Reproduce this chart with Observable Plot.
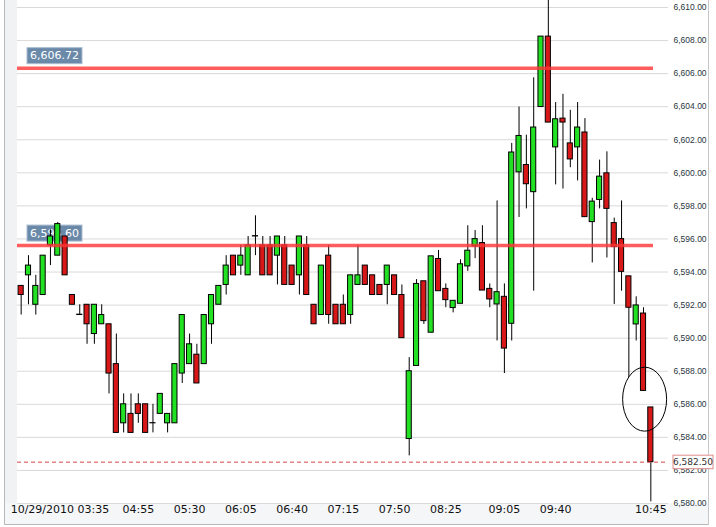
<!DOCTYPE html>
<html><head><meta charset="utf-8">
<script src="https://cdn.jsdelivr.net/npm/d3@7"></script>
<script src="https://cdn.jsdelivr.net/npm/@observablehq/plot@0.6"></script>
<style>html,body{margin:0;padding:0;background:#fff;} #chart{width:716px;height:527px;overflow:hidden;}</style>
</head><body><div id="chart"></div>
<script>
// ---- data ----
const dateLabel = "10/29/2010";
const startHour = 3, startMinute = 35, barMinutes = 5;
const open  = [6593.16,6593.80,6592.02,6592.61,6595.61,6594.99,6596.15,6592.61,6591.42,6592.02,
               6590.25,6590.84,6590.84,6588.43,6584.85,6585.42,6586.00,6586.00,6584.86,6585.42,
               6584.85,6584.85,6587.86,6588.43,6589.00,6588.43,6590.84,6592.02,6593.22,6594.99,
               6594.39,6593.80,6596.17,6595.61,6595.61,6594.99,6595.61,6594.39,6593.80,6595.61,
               6592.02,6591.40,6594.99,6592.02,6592.02,6591.40,6593.22,6594.39,6593.80,6593.22,
               6593.22,6593.80,6592.61,6583.90,6588.32,6593.44,6590.33,6594.79,6592.98,6591.82,
               6592.08,6594.34,6595.55,6595.75,6592.98,6592.04,6592.50,6590.87,6600.03,6600.47,
               6598.83,6603.98,6608.24,6601.54,6603.28,6601.78,6601.54,6602.44,6597.02,6598.36,
               6599.97,6596.96,6595.99,6593.74,6590.83,6591.49,6585.81];
const high  = [6593.16,6594.99,6593.80,6594.99,6596.55,6597.00,6596.15,6592.61,6592.02,6592.02,
               6592.02,6592.02,6590.84,6590.25,6586.63,6586.63,6586.63,6586.00,6586.00,6586.63,
               6585.42,6588.43,6591.40,6590.25,6589.63,6591.40,6592.61,6593.16,6594.99,6594.99,
               6595.61,6596.15,6597.40,6596.15,6596.15,6596.15,6596.15,6594.39,6596.15,6596.15,
               6592.02,6594.39,6595.61,6592.02,6592.61,6593.80,6595.61,6594.39,6593.80,6593.22,
               6594.39,6593.80,6593.22,6588.82,6593.54,6593.44,6594.95,6595.31,6593.28,6592.26,
               6594.74,6596.80,6596.51,6596.80,6593.28,6598.30,6593.28,6601.78,6603.98,6602.28,
               6605.75,6608.24,6610.45,6604.25,6604.75,6603.78,6604.25,6603.28,6598.46,6600.77,
               6601.27,6597.26,6598.30,6593.74,6592.50,6591.84,6585.81];
const low   = [6591.40,6592.02,6591.40,6592.61,6594.39,6594.99,6593.80,6592.02,6591.40,6589.63,
               6589.63,6590.84,6586.63,6584.27,6584.27,6584.27,6584.85,6584.27,6584.27,6585.42,
               6584.27,6584.85,6587.26,6588.43,6587.26,6588.43,6589.63,6592.02,6592.61,6593.80,
               6593.80,6593.80,6594.99,6593.80,6593.80,6593.22,6593.22,6593.22,6592.61,6592.61,
               6590.84,6591.40,6590.84,6590.84,6590.84,6590.84,6593.22,6593.22,6592.61,6592.61,
               6592.02,6592.61,6590.00,6582.88,6588.32,6590.83,6590.33,6592.84,6591.84,6591.53,
               6592.08,6594.04,6594.81,6592.88,6591.84,6589.83,6587.86,6589.83,6597.30,6597.82,
               6592.84,6603.98,6603.04,6599.27,6599.02,6600.31,6599.51,6597.32,6594.55,6597.82,
               6594.85,6592.04,6592.84,6587.62,6589.83,6586.81,6580.10];
const close = [6592.61,6594.39,6593.16,6594.99,6596.15,6596.90,6593.80,6592.02,6591.40,6590.84,
               6592.02,6591.40,6587.86,6584.27,6586.00,6584.27,6585.42,6584.27,6584.85,6586.63,
               6585.42,6588.43,6591.40,6589.63,6587.26,6591.40,6592.61,6593.16,6594.39,6593.80,
               6594.99,6595.61,6596.15,6593.80,6593.80,6596.15,6593.22,6593.22,6596.15,6592.61,
               6590.84,6594.39,6591.40,6590.84,6590.84,6593.80,6593.80,6593.22,6592.61,6592.61,
               6594.39,6592.61,6590.00,6588.00,6593.28,6591.03,6594.95,6592.84,6592.30,6592.26,
               6594.47,6595.29,6595.99,6592.88,6592.34,6592.78,6589.37,6601.23,6602.23,6599.31,
               6602.74,6608.24,6603.04,6603.24,6603.04,6600.81,6602.74,6597.32,6598.26,6599.77,
               6597.82,6595.51,6594.01,6591.84,6591.98,6586.81,6582.50];
const tickTimes = ["03:35","04:55","05:30","06:05","06:40","07:15","07:50","08:25","09:05","09:40","10:45"];
const yTicks = [6580,6582,6584,6586,6588,6590,6592,6594,6596,6598,6600,6602,6604,6606,6608,6610];
const levels = [6606.33, 6595.60];
const levelLabels = ["6,606.72", "6,595.60"];
const lastPrice = 6582.50;
const lastPriceLabel = "6,582.50";
const markTime = "10:40";
const markValue = 6586.28;

// ---- build table ----
const fmtTime = d3.timeFormat("%H:%M");
const times = open.map((_, i) => fmtTime(new Date(2010, 9, 29, startHour, startMinute + i * barMinutes)));
const bars = open.map((o, i) => ({time: times[i], open: o, high: high[i], low: low[i], close: close[i]}));

const GREEN = "#22e022", RED = "#d81818";
const NS = "http://www.w3.org/2000/svg";
function el(tag, attrs, text) {
  const e = document.createElementNS(NS, tag);
  for (const k in attrs) e.setAttribute(k, attrs[k]);
  if (text != null) e.textContent = text;
  return e;
}

const background = (index, scales, values, dim) => {
  const g = el("g", {});
  const bottom = dim.height - dim.marginBottom;
  const right = dim.width - dim.marginRight;
  g.appendChild(el("rect", {x: 5, y: 0, width: dim.marginLeft - 5, height: bottom, fill: "#f1f2f3"}));
  g.appendChild(el("rect", {x: 5, y: bottom, width: 703, height: dim.marginBottom - 3, fill: "#f5f6f8"}));
  g.appendChild(el("line", {x1: 4.5, x2: 4.5, y1: 0, y2: dim.height - 2.5, stroke: "#b8b8b8"}));
  g.appendChild(el("line", {x1: 708.5, x2: 708.5, y1: 0, y2: dim.height - 2.5, stroke: "#c8c8c8"}));
  g.appendChild(el("line", {x1: 4.5, x2: 708.5, y1: dim.height - 2.5, y2: dim.height - 2.5, stroke: "#b8b8b8"}));
  return g;
};

const levelBoxes = (index, scales, values, dim) => {
  const g = el("g", {});
  levels.forEach((v, i) => {
    const y = scales.y(v);
    g.appendChild(el("rect", {x: dim.marginLeft + 10, y: y - 20, width: 55, height: 16, fill: "#6a89a9", stroke: "#a9bccf", "stroke-width": 1}));
    g.appendChild(el("text", {x: dim.marginLeft + 37.5, y: y - 12, fill: "#ffffff", "font-family": "DejaVu Sans", "font-size": 11, "text-anchor": "middle", "dominant-baseline": "central"}, levelLabels[i]));
  });
  return g;
};

const lastBox = (index, scales, values, dim) => {
  const g = el("g", {});
  const y = scales.y(lastPrice);
  const x = dim.width - dim.marginRight + 5;
  g.appendChild(el("rect", {x: x, y: y - 6.5, width: 40, height: 13.5, fill: "#ffffff", stroke: "#e08a8a", "stroke-width": 1}));
  g.appendChild(el("text", {x: x + 20, y: y, fill: "#333", "font-family": "DejaVu Sans", "font-size": 9, "text-anchor": "middle", "dominant-baseline": "central"}, lastPriceLabel));
  return g;
};

const ellipse = (index, scales) => {
  const cx = scales.x(markTime) + scales.x.bandwidth() / 2 + 1.6;
  const cy = scales.y(markValue);
  return el("ellipse", {cx, cy, rx: 22, ry: 32, fill: "none", stroke: "#000", "stroke-width": 1});
};

const chart = Plot.plot({
  width: 716, height: 527,
  marginLeft: 17, marginRight: 48, marginTop: 7, marginBottom: 24,
  style: {background: "transparent", overflow: "visible"},
  x: {type: "band", domain: times, paddingInner: 0.3, paddingOuter: 0.15, insetRight: 14, round: false, axis: null},
  y: {domain: [6580, 6610], axis: null},
  marks: [
    background,
    Plot.ruleY(yTicks, {stroke: "#d9d9d9", strokeWidth: 1}),
    levelBoxes,
    Plot.ruleX(bars, {x: "time", y1: "low", y2: "high", stroke: "#000", strokeWidth: 1}),
    Plot.barY(bars, {x: "time", y1: "open", y2: "close", fill: d => d.close >= d.open ? GREEN : RED, stroke: "#000", strokeWidth: 1}),
    Plot.ruleY(levels, {stroke: "#ff3535", strokeOpacity: 0.8, strokeWidth: 3.5, insetRight: 15}),
    Plot.ruleY([lastPrice], {stroke: "#d84848", strokeWidth: 1, strokeDasharray: "4,3"}),
    Plot.text(yTicks, {y: d => d, text: d => d3.format(",.2f")(d), frameAnchor: "right", dx: 5, textAnchor: "start",
      fontSize: 8.5, fontFamily: "Liberation Sans", fill: "#2a3540"}),
    lastBox,
    Plot.text(tickTimes.slice(1), {x: d => d, frameAnchor: "bottom", dy: 9, fontSize: 11, fontFamily: "DejaVu Sans", fill: "#111"}),
    Plot.text(tickTimes.slice(0, 1), {x: d => d, text: d => dateLabel + " " + d, frameAnchor: "bottom", dy: 9, dx: -10.5, textAnchor: "start",
      fontSize: 11, fontFamily: "DejaVu Sans", fill: "#111"}),
    ellipse
  ]
});
document.getElementById("chart").appendChild(chart);
</script>
</body></html>
